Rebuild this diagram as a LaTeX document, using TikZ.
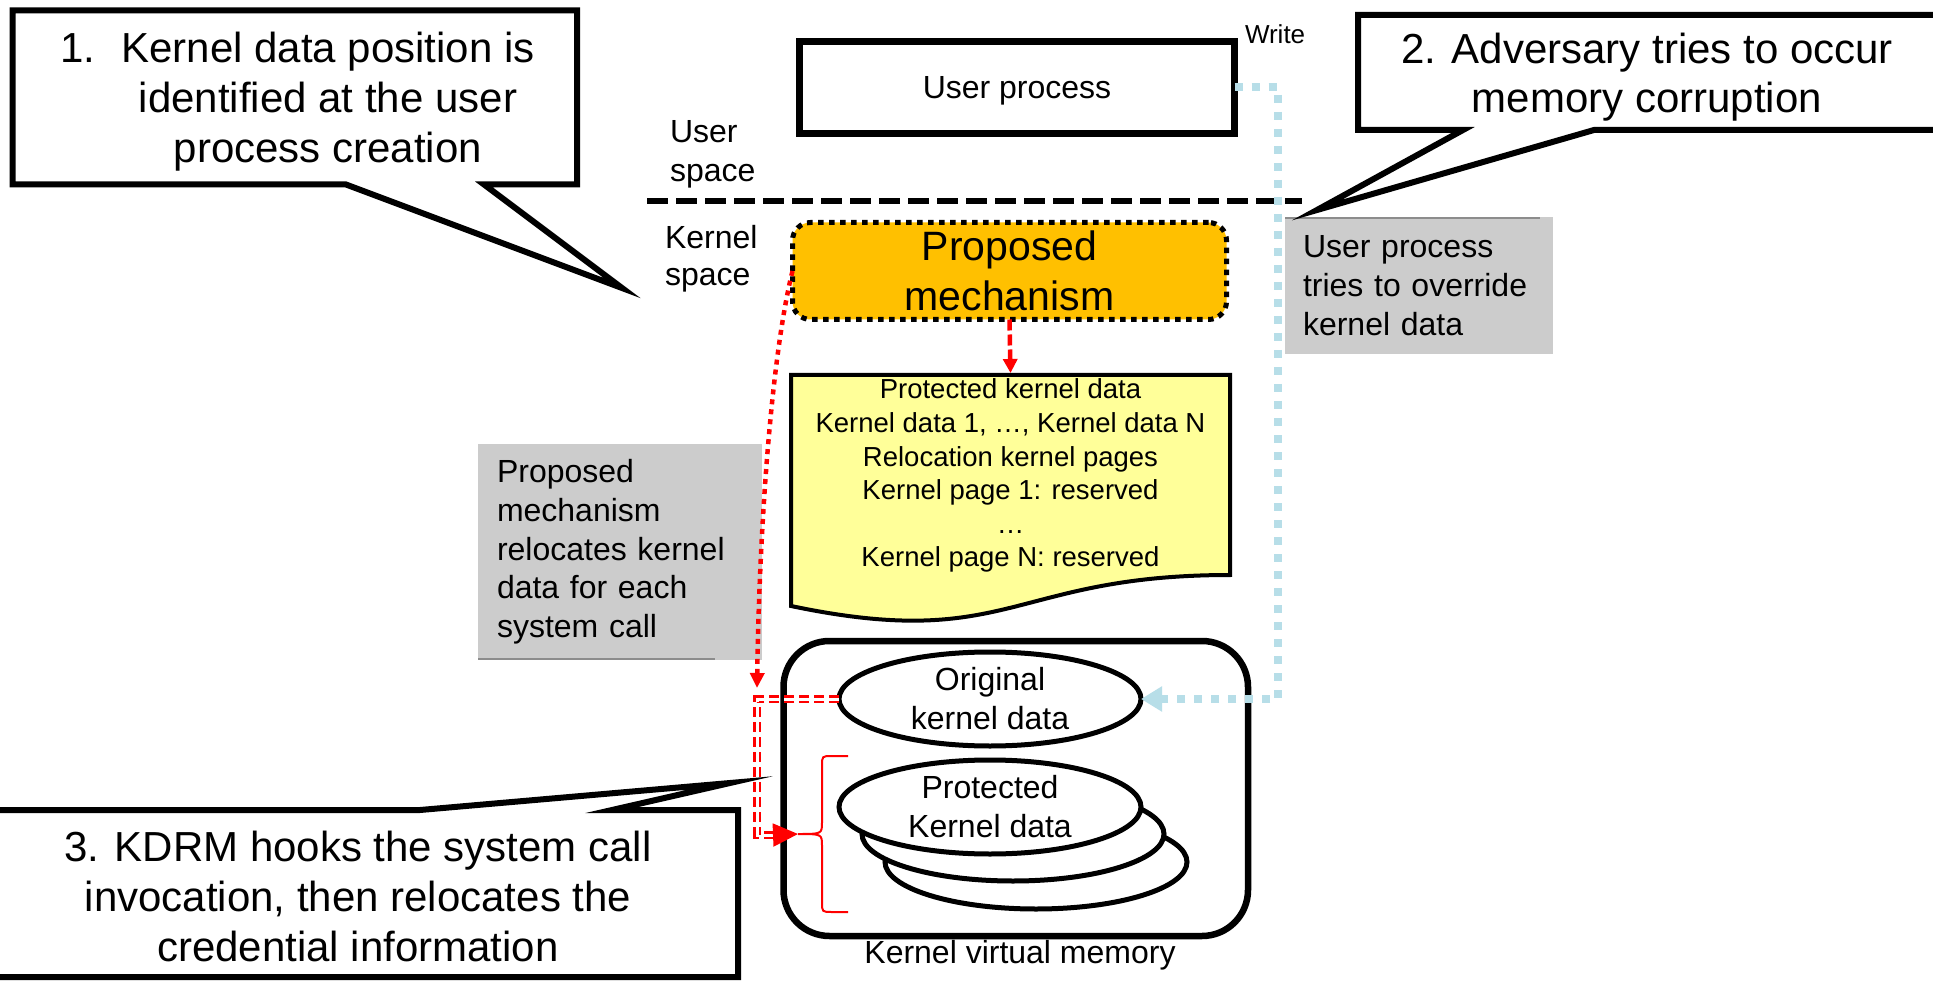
\documentclass[tikz,border=0pt]{standalone}
\usepackage{fontspec}
\setmainfont{Liberation Sans}
\usetikzlibrary{arrows.meta,shapes.geometric}

\definecolor{mechorange}{HTML}{FFC000}
\definecolor{docyellow}{HTML}{FFFF99}
\definecolor{notegray}{HTML}{CCCCCC}
\definecolor{noteedge}{HTML}{8C8C8C}
\definecolor{writecyan}{HTML}{B7DEE8}

\newcommand\setfs[2]{\fontsize{#1pt}{#2pt}\selectfont}

\tikzset{
  every node/.style={inner sep=0pt, outer sep=0pt},
  callout/.style={draw=black, fill=white, line width=6pt, line join=miter, miter limit=40},
  bigtext/.style={font=\setfs{42}{50}, align=center, anchor=north},
  plaintext/.style={font=\setfs{32}{39}, align=left},
  userbox/.style={draw=black, line width=7pt, minimum width=435pt, minimum height=92pt,
    font=\setfs{32}{39}, text depth=0pt},
  mechbox/.style={draw=black, fill=mechorange, line width=5pt, dash pattern=on 5.5pt off 5.5pt,
    rounded corners=18pt, minimum width=434pt, minimum height=97pt,
    font=\setfs{41}{50}, align=center},
  doctext/.style={font=\setfs{27.5}{33.6}, align=center, anchor=north},
  notebox/.style={fill=notegray, font=\setfs{32}{38.7}, align=left},
  memorybox/.style={draw=black, line width=6.5pt, rounded corners=46pt,
    minimum width=464.5pt, minimum height=295pt},
  dataoval/.style={ellipse, draw=black, fill=white, line width=5pt,
    minimum width=302pt, minimum height=94pt, font=\setfs{32}{39}, align=center},
  reddash/.style={red, line width=4.5pt, dash pattern=on 11pt off 4pt,
    -{Triangle[length=14pt,width=14pt]}},
  reddot/.style={red, line width=4.5pt, dash pattern=on 5pt off 5pt,
    -{Triangle[length=15pt,width=14pt]}},
  redpipe/.style={red, line width=2.3pt, double=white, double distance=3pt,
    dash pattern=on 10pt off 5pt},
  writeline/.style={writecyan, line width=8pt, dash pattern=on 8pt off 9pt,
    -{Triangle[length=21pt,width=24pt]}},
}

\begin{document}
\begin{tikzpicture}[x=1pt,y=-1pt]
\useasboundingbox (0,0) rectangle (1933,981);
\fill[white] (0,0) rectangle (1933,981);
\clip (0,0) rectangle (1933,981);

% ---------- user / kernel boundary ----------
\draw[line width=6pt, dash pattern=on 21pt off 8pt] (647,201) -- (1302,201);
\node[plaintext, anchor=north west] (ulabel) at (670,120) {User\\space};
\node[plaintext, font=\setfs{32}{37}, anchor=north west] (klabel) at (665,225) {Kernel\\space};

% ---------- user process ----------
\node[userbox] (userproc) at (1017,87.5) {User process};
\node[font=\setfs{26}{30}, anchor=base west] (write) at (1245,44) {Write};

% ---------- proposed mechanism ----------
\node[mechbox] (mech) at (1009.5,271) {Proposed\\mechanism};

% ---------- protected data document ----------
\draw[fill=docyellow, line width=4pt, line join=miter]
  (791,375) -- (1230,375) -- (1230,575)
  .. controls (1010.5,575) and (1010.5,652) .. (791,606) -- cycle;
\node[doctext] (doc) at (1010.5,379)
  {Protected kernel data\\Kernel data 1, …, Kernel data N\\Relocation kernel pages\\
   Kernel page 1: reserved\\…\\Kernel page N: reserved};

% ---------- notes ----------
\node[notebox, minimum width=268pt, minimum height=137pt, text width=232pt, inner xsep=18pt]
  (overnote) at (1419,285.5) {User process\\tries to override\\kernel data};
\draw[noteedge, line width=2.5pt] (1285,218) -- (1540,218);

\node[notebox, minimum width=284pt, minimum height=216pt, text width=246pt, inner xsep=19pt]
  (relnote) at (620,552) {Proposed\\mechanism\\relocates kernel\\data for each\\system call};
\draw[noteedge, line width=2.5pt] (478,659) -- (715,659);

% ---------- kernel virtual memory ----------
\node[memorybox] (kvm) at (1015.75,788.5) {};
\node[font=\setfs{32}{39}, anchor=base] (kvmlabel) at (1020,963) {Kernel virtual memory};

\node[dataoval] (orig) at (990,699) {Original\\kernel data};
\node[dataoval] (prot3) at (1036,862) {};
\node[dataoval] (prot2) at (1013,834) {};
\node[dataoval] (prot1) at (990,807) {Protected\\Kernel data};

% brace grouping the protected copies
\coordinate (bracetip) at (798,834);
\draw[red, line width=2pt]
  (848,756) -- (832,756) .. controls (822,756) .. (822,766) -- (822,822)
  .. controls (822,834) .. (bracetip)
  .. controls (822,834) .. (822,846) -- (822,902)
  .. controls (822,912) .. (832,912) -- (848,912);

% ---------- connectors ----------
\draw[reddash] (mech.south) -- ([yshift=6pt]doc.north);

\coordinate (junction) at (757,688);
\draw[reddot] (mech.west) .. controls (774,345) and (760,500) .. (junction);

\coordinate (pipeturn) at (757,835);
\draw[redpipe] (orig.west) -| (pipeturn) -- ++(16,0) coordinate (pipeend);
\draw[red, line width=2pt, -{Triangle[length=25pt,width=23pt]}] (pipeend) -- (bracetip);

\draw[writeline] (userproc.east) -- ++(43.5,0) |- (orig.east);

% ---------- callouts ----------
\draw[callout] (12.5,10.5) -- (577,10.5) -- (577,184.5) -- (484,184.5) -- (622,288)
  -- (346,184.5) -- (12.5,184.5) -- cycle;
\node[bigtext] (c1text) at (328,32)
  {\llap{1.\hspace{26pt}}Kernel data position is\\identified at the user\\process creation};

\draw[callout] (1358,15) -- (1945,15) -- (1945,130) -- (1594,130) -- (1317,210)
  -- (1463,130) -- (1358,130) -- cycle;
\node[bigtext, font=\setfs{42}{49}] (c2text) at (1647,33)
  {2. Adversary tries to occur\\memory corruption};

\draw[callout] (-10,810) -- (420,810) -- (730,783) -- (612,810) -- (738,810)
  -- (738,977) -- (-10,977) -- cycle;
\node[bigtext] (c3text) at (358,831)
  {3. KDRM hooks the system call\\invocation, then relocates the\\credential information};
\end{tikzpicture}
\end{document}
